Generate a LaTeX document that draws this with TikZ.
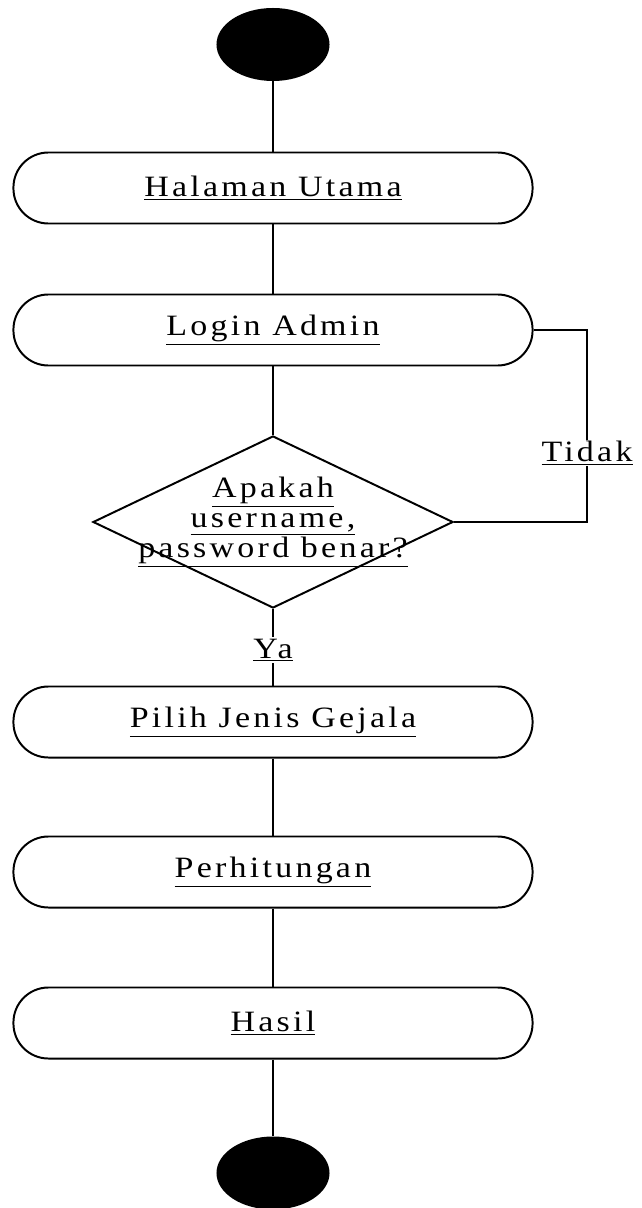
\documentclass[tikz,border=0pt]{standalone}
\usepackage{fontspec}
\setmainfont{Liberation Serif}[LetterSpace=11, FakeStretch=1.15]
\usetikzlibrary{shapes.geometric}
\tikzset{
	aktivitas/.style={draw, line width=1.4pt, rounded corners=0.875cm, minimum width=12.975cm, minimum height=1.775cm, inner sep=0pt},
	keputusan/.style={draw, diamond, line width=1.4pt, minimum width=9cm, minimum height=4.3cm, inner sep=0pt},
	titik/.style={ellipse, fill=black, minimum width=2.825cm, minimum height=1.825cm, inner sep=0pt},
	ket/.style={fill=white, inner sep=1pt},
	alur/.style={line width=1.4pt}
}

\begin{document}
\begin{tikzpicture}[x=0.025cm, y=-0.025cm, every node/.style={font=\fontsize{21pt}{21.3pt}\selectfont}]
			%%%%% START %%%%%
			\useasboundingbox (0, 0) rectangle (641, 1208);
			
			\node[titik] (mulai) at (273, 44.5) {};
			
			\node[aktivitas] (utama) at (273, 188) {\underline{Halaman Utama}};
			\node[aktivitas] (login) at (273, 330) {\underline{Login Admin}};
			
			\node[keputusan] (cek) at (273, 522) {};
			\node[align=center] (tanya) at (cek) {\underline{Apakah}\\\underline{username,}\\\underline{password benar?}};
			
			\node[aktivitas] (gejala) at (273, 722) {\underline{Pilih Jenis Gejala}};
			\node[aktivitas] (hitung) at (273, 872) {\underline{Perhitungan}};
			\node[aktivitas] (hasil) at (273, 1023) {\underline{Hasil}};
			
			\node[titik] (selesai) at (273, 1173) {};
			
			\draw[alur] (mulai) -- (utama);
			\draw[alur] (utama) -- (login);
			\draw[alur] (login) -- (cek);
			
			% kalau salah, kembali ke login
			\coordinate (belok1) at (587, 330);
			\coordinate (belok2) at (587, 522);
			\draw[alur] (login.east) -- (belok1) -- (belok2) -- (cek.east);
			\node[ket] (tidak) at (587, 453) {\underline{Tidak}};
			
			\draw[alur] (cek.south) -- (gejala.north);
			\node[ket] (ya) at (273, 650) {\underline{Ya}};
			
			\draw[alur] (gejala) -- (hitung);
			\draw[alur] (hitung) -- (hasil);
			\draw[alur] (hasil) -- (selesai);
			
			%%%%% END %%%%%
\end{tikzpicture}
\end{document}
